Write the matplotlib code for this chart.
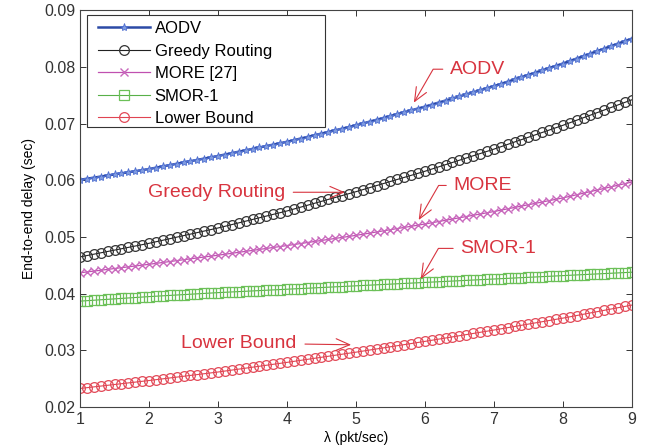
import numpy as np
import matplotlib
matplotlib.use("Agg")
import matplotlib.pyplot as plt
from matplotlib.patches import Rectangle

plt.rcParams['font.family'] = ['Liberation Sans', 'DejaVu Sans']

# arrival rate lambda (pkt/sec), sampled every 0.1
lam = np.round(np.arange(1, 9.05, 0.1), 1)

# end-to-end delay (sec)
aodv = [0.06010, 0.06029, 0.06048, 0.06067, 0.06086, 0.06105, 0.06124, 0.06143, 0.06162, 0.06181,
        0.06200, 0.06223, 0.06246, 0.06269, 0.06292, 0.06315, 0.06338, 0.06361, 0.06384, 0.06407,
        0.06430, 0.06455, 0.06480, 0.06505, 0.06530, 0.06555, 0.06580, 0.06605, 0.06630, 0.06655,
        0.06680, 0.06709, 0.06738, 0.06767, 0.06796, 0.06825, 0.06854, 0.06883, 0.06912, 0.06941,
        0.06970, 0.07003, 0.07036, 0.07069, 0.07102, 0.07135, 0.07168, 0.07201, 0.07234, 0.07267,
        0.07300, 0.07336, 0.07372, 0.07408, 0.07444, 0.07480, 0.07516, 0.07552, 0.07588, 0.07624,
        0.07660, 0.07700, 0.07740, 0.07780, 0.07820, 0.07860, 0.07900, 0.07940, 0.07980, 0.08020,
        0.08060, 0.08104, 0.08148, 0.08192, 0.08236, 0.08280, 0.08324, 0.08368, 0.08412, 0.08456,
        0.08500]
greedy = [0.04650, 0.04674, 0.04698, 0.04722, 0.04746, 0.04770, 0.04794, 0.04818, 0.04842, 0.04866,
          0.04890, 0.04917, 0.04944, 0.04971, 0.04998, 0.05025, 0.05052, 0.05079, 0.05106, 0.05133,
          0.05160, 0.05190, 0.05220, 0.05250, 0.05280, 0.05310, 0.05340, 0.05370, 0.05400, 0.05430,
          0.05460, 0.05494, 0.05528, 0.05562, 0.05596, 0.05630, 0.05664, 0.05698, 0.05732, 0.05766,
          0.05800, 0.05836, 0.05872, 0.05908, 0.05944, 0.05980, 0.06016, 0.06052, 0.06088, 0.06124,
          0.06160, 0.06199, 0.06238, 0.06277, 0.06316, 0.06355, 0.06394, 0.06433, 0.06472, 0.06511,
          0.06550, 0.06592, 0.06634, 0.06676, 0.06718, 0.06760, 0.06802, 0.06844, 0.06886, 0.06928,
          0.06970, 0.07015, 0.07060, 0.07105, 0.07150, 0.07195, 0.07240, 0.07285, 0.07330, 0.07375,
          0.07420]
more = [0.04370, 0.04385, 0.04400, 0.04415, 0.04430, 0.04445, 0.04460, 0.04475, 0.04490, 0.04505,
        0.04520, 0.04536, 0.04552, 0.04568, 0.04584, 0.04600, 0.04616, 0.04632, 0.04648, 0.04664,
        0.04680, 0.04697, 0.04714, 0.04731, 0.04748, 0.04765, 0.04782, 0.04799, 0.04816, 0.04833,
        0.04850, 0.04868, 0.04886, 0.04904, 0.04922, 0.04940, 0.04958, 0.04976, 0.04994, 0.05012,
        0.05030, 0.05050, 0.05070, 0.05090, 0.05110, 0.05130, 0.05150, 0.05170, 0.05190, 0.05210,
        0.05230, 0.05252, 0.05274, 0.05296, 0.05318, 0.05340, 0.05362, 0.05384, 0.05406, 0.05428,
        0.05450, 0.05474, 0.05498, 0.05522, 0.05546, 0.05570, 0.05594, 0.05618, 0.05642, 0.05666,
        0.05690, 0.05718, 0.05746, 0.05774, 0.05802, 0.05830, 0.05858, 0.05886, 0.05914, 0.05942,
        0.05970]
smor = [0.03870, 0.03878, 0.03886, 0.03894, 0.03902, 0.03910, 0.03918, 0.03926, 0.03934, 0.03942,
        0.03950, 0.03957, 0.03964, 0.03971, 0.03978, 0.03985, 0.03992, 0.03999, 0.04006, 0.04013,
        0.04020, 0.04026, 0.04032, 0.04038, 0.04044, 0.04050, 0.04056, 0.04062, 0.04068, 0.04074,
        0.04080, 0.04086, 0.04092, 0.04098, 0.04104, 0.04110, 0.04116, 0.04122, 0.04128, 0.04134,
        0.04140, 0.04146, 0.04152, 0.04158, 0.04164, 0.04170, 0.04176, 0.04182, 0.04188, 0.04194,
        0.04200, 0.04206, 0.04212, 0.04218, 0.04224, 0.04230, 0.04236, 0.04242, 0.04248, 0.04254,
        0.04260, 0.04266, 0.04272, 0.04278, 0.04284, 0.04290, 0.04296, 0.04302, 0.04308, 0.04314,
        0.04320, 0.04326, 0.04332, 0.04338, 0.04344, 0.04350, 0.04356, 0.04362, 0.04368, 0.04374,
        0.04380]
lower = [0.02330, 0.02344, 0.02358, 0.02372, 0.02386, 0.02400, 0.02414, 0.02428, 0.02442, 0.02456,
         0.02470, 0.02485, 0.02500, 0.02515, 0.02530, 0.02545, 0.02560, 0.02575, 0.02590, 0.02605,
         0.02620, 0.02637, 0.02654, 0.02671, 0.02688, 0.02705, 0.02722, 0.02739, 0.02756, 0.02773,
         0.02790, 0.02808, 0.02826, 0.02844, 0.02862, 0.02880, 0.02898, 0.02916, 0.02934, 0.02952,
         0.02970, 0.02989, 0.03008, 0.03027, 0.03046, 0.03065, 0.03084, 0.03103, 0.03122, 0.03141,
         0.03160, 0.03180, 0.03200, 0.03220, 0.03240, 0.03260, 0.03280, 0.03300, 0.03320, 0.03340,
         0.03360, 0.03381, 0.03402, 0.03423, 0.03444, 0.03465, 0.03486, 0.03507, 0.03528, 0.03549,
         0.03570, 0.03593, 0.03616, 0.03639, 0.03662, 0.03685, 0.03708, 0.03731, 0.03754, 0.03777,
         0.03800]

labels = ['AODV', 'Greedy Routing', 'MORE [27]', 'SMOR-1', 'Lower Bound']

fig = plt.figure(figsize=(6.46, 4.45), dpi=100)
ax = fig.add_axes([0.124, 0.085, 0.854, 0.892])

ax.plot(lam, aodv, color='#2c4aa6', lw=1.8, marker='*', ms=6, mfc='#7f9be0', mec='#4f6fd0', mew=0.6, label=labels[0])
ax.plot(lam, greedy, color='#222222', lw=0.8, marker='o', ms=7, mfc='none', mec='#333333', mew=0.9, label=labels[1])
ax.plot(lam, more, color='#c050b0', lw=0.9, marker='x', ms=5.5, mec='#c868bc', mew=1.0, label=labels[2])
ax.plot(lam, smor, color='#58b048', lw=0.8, marker='s', ms=6.5, mfc='none', mec='#6cc058', mew=0.9, label=labels[3])
ax.plot(lam, lower, color='#e04452', lw=0.8, marker='o', ms=7, mfc='none', mec='#e24a58', mew=0.9, label=labels[4])

ax.set_xlim(1, 9)
ax.set_ylim(0.02, 0.09)
ax.set_xticks(range(1, 10))
ax.set_yticks([0.02, 0.03, 0.04, 0.05, 0.06, 0.07, 0.08, 0.09])
ax.set_yticklabels(['0.02', '0.03', '0.04', '0.05', '0.06', '0.07', '0.08', '0.09'])
ax.tick_params(direction='in', top=True, right=True, labelsize=11.5, length=4, width=0.7, colors='#333333')
for s in ax.spines.values():
    s.set_linewidth(0.8)
    s.set_color('#444444')

ax.set_xlabel('λ (pkt/sec)', fontsize=10, labelpad=3)
ax.set_ylabel('End-to-end delay (sec)', fontsize=10, labelpad=6)

# legend entries without their own frame; a wider box is drawn round them
leg = ax.legend(loc='upper left', bbox_to_anchor=(0.0217, 0.9874), frameon=False,
                fontsize=12, numpoints=1, handlelength=3.1, labelspacing=0.45,
                borderaxespad=0, handletextpad=0.3, borderpad=0.35)
ax.add_patch(Rectangle((0.0127, 0.7053), 0.431, 0.2821, transform=ax.transAxes,
                       facecolor='white', edgecolor='#333333', lw=0.8, zorder=4))
leg.set_zorder(5)

# red text arrows pointing at each curve
red = '#d8343f'
elbow = dict(arrowstyle='->, head_length=0.7, head_width=0.3', color=red, lw=0.8,
             connectionstyle='angle,angleA=0,angleB=60,rad=0', shrinkA=3, shrinkB=1)
straight = dict(arrowstyle='->, head_length=0.7, head_width=0.3', color=red, lw=0.8, shrinkA=4, shrinkB=1)

ax.annotate('AODV', xy=(5.83, 0.0735), xytext=(6.36, 0.0796), color=red, fontsize=14,
            ha='left', va='center', arrowprops=elbow)
ax.annotate('Greedy Routing', xy=(4.86, 0.0579), xytext=(3.97, 0.0579), color=red, fontsize=14,
            ha='right', va='center', arrowprops=straight)
ax.annotate('MORE', xy=(5.90, 0.0528), xytext=(6.41, 0.0591), color=red, fontsize=14,
            ha='left', va='center', arrowprops=elbow)
ax.annotate('SMOR-1', xy=(5.93, 0.0424), xytext=(6.51, 0.0480), color=red, fontsize=14,
            ha='left', va='center', arrowprops=elbow)
ax.annotate('Lower Bound', xy=(4.95, 0.0310), xytext=(4.14, 0.0313), color=red, fontsize=14,
            ha='right', va='center', arrowprops=straight)

plt.savefig('out.png', dpi=100)
